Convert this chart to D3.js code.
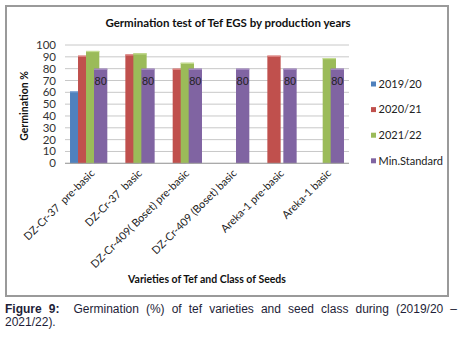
<!DOCTYPE html>
<html>
<head>
<meta charset="utf-8">
<title>Germination test</title>
<script src="https://cdn.jsdelivr.net/npm/d3@7/dist/d3.min.js"></script>
<style>
  body { margin: 0; background: #fff; }
  #caption { position: absolute; left: 5px; top: 303px; width: 452px;
             font-family: "Liberation Sans", Arial, sans-serif; font-size: 12px;
             color: #1e1e38; line-height: 13px; }
  #caption .l1 { display: block; text-align: justify; text-align-last: justify; }
  #caption b { font-weight: bold; }
</style>
</head>
<body>
<svg width="462" height="300" id="mainsvg"></svg>
<div id="caption"><span class="l1"><b>Figure 9:</b>&nbsp; Germination (%) of tef varieties and seed class during (2019/20 –</span>2021/22).</div>
<script>
// values
const categories = ["DZ-Cr-37  pre-basic", "DZ-Cr-37  basic", "DZ-Cr-409( Boset) pre-basic",
                    "DZ-Cr-409 (Boset) basic", "Areka-1 pre-basic", "Areka-1 basic"];
const seriesNames = ["2019/20", "2020/21", "2021/22", "Min.Standard"];
const y2019 = [61, null, null, null, null, null];
const y2020 = [91, 92, 80, null, 91, null];
const y2021 = [95, 93, 85, null, null, 89];
const minStd = [80, 80, 80, 80, 80, 80];
const yTicks = [0, 10, 20, 30, 40, 50, 60, 70, 80, 90, 100];
const colors = ["#4f81bd", "#c0504d", "#9bbb59", "#8064a2"];
const topEdge = ["#8fb0dc", "#e08886", "#c4dc90", "#a88fc6"];

const series = [y2019, y2020, y2021, minStd];

const svg = d3.select('#mainsvg');
const plot = { left: 65, right: 349, top: 45, bottom: 163.3 };
const font = "Lato, 'Open Sans', sans-serif";

// chart frame
svg.append('rect')
  .attr('x', 6).attr('y', 6).attr('width', 442).attr('height', 290)
  .attr('fill', 'none').attr('stroke', '#9a9a9a').attr('stroke-width', 2);

const x = d3.scaleBand().domain(categories).range([plot.left, plot.right]);
const y = d3.scaleLinear().domain([0, 100]).range([plot.bottom, plot.top]);

// gridlines
svg.append('g').selectAll('line').data(yTicks).join('line')
  .attr('x1', plot.left).attr('x2', plot.right)
  .attr('y1', d => y(d)).attr('y2', d => y(d))
  .attr('stroke', '#c8c8c8').attr('stroke-width', 1);

// y axis labels
svg.append('g').selectAll('text').data(yTicks).join('text')
  .attr('x', 56).attr('y', d => y(d)).attr('dy', '0.35em')
  .attr('text-anchor', 'end')
  .style('font-family', font).style('font-size', '11.5px').attr('fill', '#333')
  .text(d => d);

// overlapped clustered bars (Excel style)
const barW = 13.3, step = 8;
const clusterW = step * (series.length - 1) + barW;
series.forEach((vals, si) => {
  const g = svg.append('g');
  vals.forEach((v, ci) => {
    if (v == null) return;
    const x0 = x(categories[ci]) + x.bandwidth() / 2 - clusterW / 2 + si * step;
    g.append('rect')
      .attr('x', x0).attr('y', y(v))
      .attr('width', barW).attr('height', y(0) - y(v))
      .attr('fill', colors[si]);
    g.append('rect')
      .attr('x', x0).attr('y', y(v))
      .attr('width', barW).attr('height', 1.2)
      .attr('fill', topEdge[si]);
  });
});

// data labels on Min.Standard
minStd.forEach((v, ci) => {
  const x0 = x(categories[ci]) + x.bandwidth() / 2 - clusterW / 2 + 3 * step;
  svg.append('text')
    .attr('x', x0 + barW / 2).attr('y', y(v) + 12)
    .attr('dy', '0.35em').attr('text-anchor', 'middle')
    .style('font-family', "'Liberation Sans', Arial, sans-serif").style('font-size', '11px')
    .attr('fill', '#222').text(v);
});

// x axis line
svg.append('line')
  .attr('x1', plot.left).attr('x2', plot.right)
  .attr('y1', plot.bottom).attr('y2', plot.bottom)
  .attr('stroke', '#a0a0a0');

// category labels, rotated
svg.append('g').selectAll('text').data(categories).join('text')
  .attr('transform', d => `translate(${x(d) + x.bandwidth() / 2 + 4},${plot.bottom + 8}) rotate(-45)`)
  .attr('text-anchor', 'end')
  .attr('dy', '0.35em')
  .style('font-family', font).style('font-size', '10.8px').attr('fill', '#222')
  .style('white-space', 'pre')
  .text(d => d);

// titles
svg.append('text')
  .attr('x', 228).attr('y', 27).attr('text-anchor', 'middle')
  .style('font-family', font).style('font-size', '11.5px').style('font-weight', 'bold')
  .attr('fill', '#111').text('Germination test of Tef EGS by production  years');

svg.append('text')
  .attr('x', (plot.left + plot.right) / 2).attr('y', 283).attr('text-anchor', 'middle')
  .style('font-family', font).style('font-size', '10.5px').style('font-weight', 'bold')
  .attr('fill', '#111').text('Varieties of Tef and Class of Seeds');

svg.append('text')
  .attr('transform', 'translate(28,106) rotate(-90)').attr('text-anchor', 'middle')
  .style('font-family', font).style('font-size', '10.5px').style('font-weight', 'bold')
  .attr('fill', '#111').text('Germination %');

// legend
const legend = svg.append('g').selectAll('g').data(seriesNames).join('g')
  .attr('transform', (d, i) => `translate(371,${84 + i * 25.6})`);
legend.append('rect')
  .attr('x', 0).attr('y', -2.5).attr('width', 5).attr('height', 5)
  .attr('fill', (d, i) => colors[i]);
legend.append('text')
  .attr('x', 7.5).attr('dy', '0.35em')
  .style('font-family', font).style('font-size', '11px').attr('fill', '#222')
  .text(d => d);
</script>
</body>
</html>
